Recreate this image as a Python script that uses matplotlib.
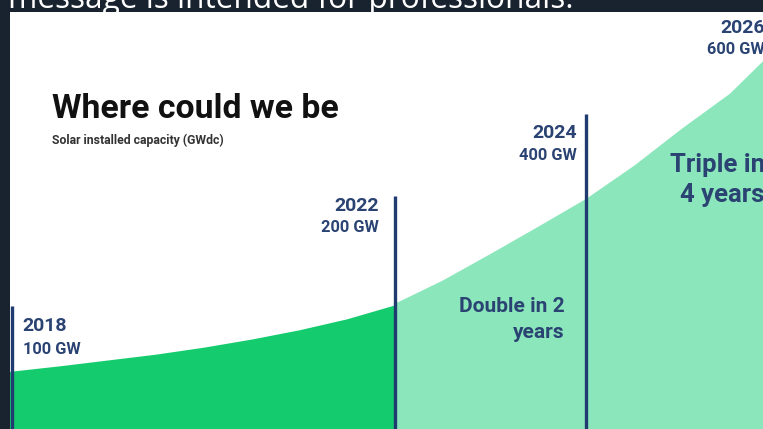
import numpy as np
import matplotlib.pyplot as plt

# solar capacity curve (year, GW)
years_a = [2017.9, 2018.5, 2019.0, 2019.5, 2020.0, 2020.5, 2021.0, 2021.5, 2022.0]
gw_a = [98, 109, 119, 129, 141, 155, 171, 190, 214]
years_b = [2022.0, 2022.5, 2023.0, 2023.5, 2024.0, 2024.5, 2025.0, 2025.5, 2026.0]
gw_b = [217, 257, 303, 350, 398, 455, 519, 579, 660]

mark_years = [2018, 2022, 2024, 2026]
mark_labels = ["100 GW", "200 GW", "400 GW", "600 GW"]
mark_top = [212, 402, 543, 760]  # where each vertical line stops (GW units)

W, H = 763, 429
bg = "#19222f"
navy = "#1f3b70"
txt = "#2a4372"
dark_green = "#14cc6e"
light_green = "#8be7bb"

fig = plt.figure(figsize=(W / 100, H / 100), dpi=100, facecolor=bg)
ax = fig.add_axes([10 / W, 0, (W - 10) / W, (H - 12) / H])
ax.set_facecolor("white")

px_per_year = 95.67
x0 = 2018 + (10 - 12) / px_per_year
x1 = 2018 + (W - 12) / px_per_year
ax.set_xlim(x0, x1)
ax.set_ylim(0, (H - 12) / 0.58)
for s in ax.spines.values():
    s.set_visible(False)
ax.set_xticks([])
ax.set_yticks([])

ax.fill_between(years_a, gw_a, 0, color=dark_green, lw=0, zorder=1)
ax.fill_between(years_b, gw_b, 0, color=light_green, lw=0, zorder=1)

for yr, top in zip(mark_years, mark_top):
    ax.plot([yr, yr], [0, top], color=navy, lw=2.4, zorder=3, solid_capstyle="butt")

ff = ["Roboto", "DejaVu Sans"]

def ftxt(x, y, s, **kw):
    fig.text(x / W, 1 - y / H, s, family=ff, **kw)

# banner text at the very top (cut off in the screenshot), behind the white panel
fig.text(8 / W, 1 - 8.5 / H, "message is intended for professionals.", color="white",
         fontsize=22.8, family=["Open Sans", "DejaVu Sans"], va="baseline", ha="left", zorder=-1)

ftxt(52, 118, "Where could we be", fontsize=24.3, weight="bold", color="#111111", va="baseline")
ftxt(52, 144, "Solar installed capacity (GWdc)", fontsize=8.8, weight="bold", color="#333333", va="baseline")

# year / capacity labels
lab_pos = [(22, 326, 349, "left"), (379, 206, 228, "right"), (577, 133, 156, "right"), (765, 28, 50, "right")]
for yr, gl, (lx, y1, y2, ha) in zip(mark_years, mark_labels, lab_pos):
    ftxt(lx, y1, str(yr), fontsize=14, weight="bold", color=txt, va="center", ha=ha)
    ftxt(lx + (1 if ha == "left" else 0), y2, gl, fontsize=11.8, weight="bold", color=txt, va="center", ha=ha)

ftxt(565, 306, "Double in 2", fontsize=15, weight="bold", color=txt, va="center", ha="right")
ftxt(565, 332, "years", fontsize=15, weight="bold", color=txt, va="center", ha="right")
ftxt(765, 165, "Triple in", fontsize=18.5, weight="bold", color=txt, va="center", ha="right")
ftxt(765, 195, "4 years", fontsize=18.5, weight="bold", color=txt, va="center", ha="right")

fig.savefig("out.png", dpi=100, facecolor=bg)
